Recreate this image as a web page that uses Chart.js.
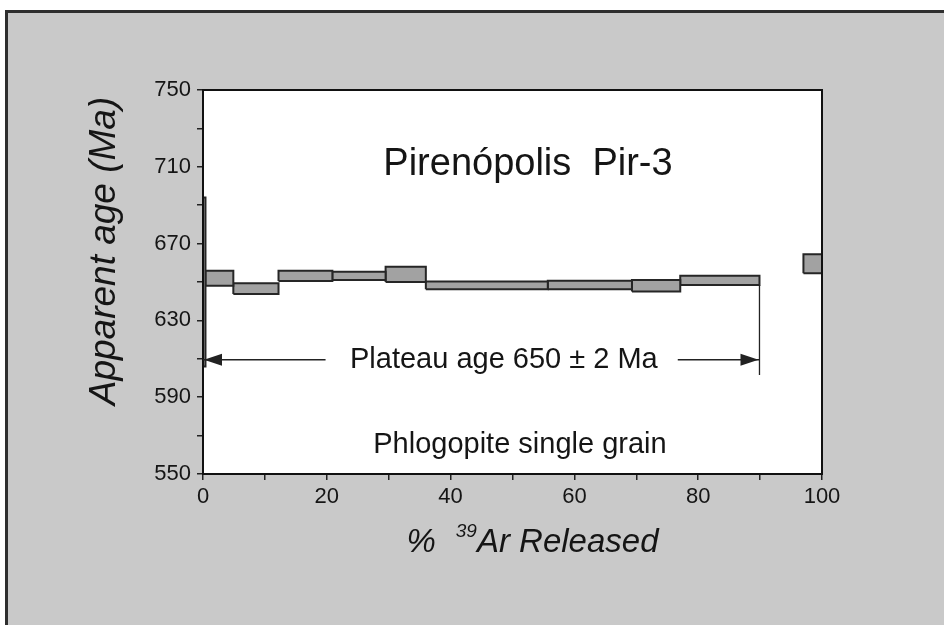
<!DOCTYPE html>
<html>
<head>
<meta charset="utf-8">
<title>Pirenópolis Pir-3 age spectrum</title>
<script src="https://cdn.jsdelivr.net/npm/chart.js@4.4.1/dist/chart.umd.min.js"></script>
<style>
  html, body { margin: 0; padding: 0; background: #fff; }
  #wrap { width: 944px; height: 625px; position: relative; }
</style>
</head>
<body>
<div id="wrap"><canvas id="spectrum"></canvas></div>
<script>

// step heating results: cumulative % 39Ar released at start/end of each step,
// apparent age and its error (Ma)
const stepStart = [0, 0.4, 4.9, 12.2, 20.9, 29.5, 36.0, 55.7, 69.3, 77.1, 97.0];
const stepEnd   = [0.4, 4.9, 12.2, 20.9, 29.5, 36.0, 55.7, 69.3, 77.1, 89.9, 100];
const stepAge   = [650, 652, 646.6, 653.2, 653.2, 654, 648.2, 648.4, 648, 650.8, 659.5];
const stepErr   = [44, 3.9, 2.8, 2.7, 2.2, 4, 2, 2.2, 3, 2.4, 5];

const yTicks = [550, 590, 630, 670, 710, 750];
const xTicks = [0, 20, 40, 60, 80, 100];

// plateau (steps 1-10)
const plateauFrom = 0;
const plateauTo = 89.9;
const plateauAge = 650;
const plateauErr = 2;

const FONT = '"Liberation Sans", Arial, Helvetica, sans-serif';
const INK = '#151515';

const boxes = stepAge.map((age, i) => {
    const lo = age - stepErr[i];
    const hi = age + stepErr[i];
    return {
        data: [
            { x: stepStart[i], y: lo },
            { x: stepEnd[i], y: lo },
            { x: stepEnd[i], y: hi },
            { x: stepStart[i], y: hi },
            { x: stepStart[i], y: lo }
        ],
        borderColor: '#262626',
        borderWidth: 2,
        borderJoinStyle: 'miter',
        backgroundColor: '#a2a2a2',
        fill: 'shape',
        pointRadius: 0,
        tension: 0,
        clip: false
    };
});


// grey page, frame and white plot box
const backdrop = {
    id: 'backdrop',
    beforeDraw(chart) {
        const { ctx, width, height, chartArea: a } = chart;
        ctx.save();
        ctx.fillStyle = '#fff';
        ctx.fillRect(0, 0, width, height);
        ctx.fillStyle = '#c9c9c9';
        ctx.fillRect(7, 12, width - 7, height - 12);
        ctx.strokeStyle = '#2e2e2e';
        ctx.lineWidth = 3;
        ctx.beginPath();
        ctx.moveTo(6.5, height);
        ctx.lineTo(6.5, 11.5);
        ctx.lineTo(width, 11.5);
        ctx.stroke();
        ctx.fillStyle = '#fff';
        ctx.fillRect(a.left, a.top, a.right - a.left, a.bottom - a.top);
        ctx.restore();
    }
};


function arrowHead(ctx, tipX, y, dir) {
    ctx.beginPath();
    ctx.moveTo(tipX, y);
    ctx.lineTo(tipX - dir * 18, y - 6);
    ctx.lineTo(tipX - dir * 18, y + 6);
    ctx.closePath();
    ctx.fill();
}


// plateau bracket, labels and the axis titles (x title has a superscript)
const notes = {
    id: 'notes',
    afterDraw(chart) {
        const { ctx, chartArea: a } = chart;
        const xs = chart.scales.x;
        const ys = chart.scales.y;
        ctx.save();

        // box round the plot
        ctx.strokeStyle = '#111';
        ctx.lineWidth = 2;
        ctx.strokeRect(a.left, a.top, a.right - a.left, a.bottom - a.top);

        // plateau arrow
        const arrowY = ys.getPixelForValue(609.5);
        const xL = xs.getPixelForValue(plateauFrom);
        const xR = xs.getPixelForValue(plateauTo);
        const last = stepStart.indexOf(77.1);
        ctx.strokeStyle = '#222';
        ctx.fillStyle = '#222';
        ctx.lineWidth = 1.3;
        ctx.beginPath();
        ctx.moveTo(xR, ys.getPixelForValue(stepAge[last] - stepErr[last]));
        ctx.lineTo(xR, ys.getPixelForValue(601.5));
        ctx.moveTo(xL, arrowY);
        ctx.lineTo(xs.getPixelForValue(19.8), arrowY);
        ctx.moveTo(xs.getPixelForValue(76.7), arrowY);
        ctx.lineTo(xR, arrowY);
        ctx.stroke();
        arrowHead(ctx, xL + 1, arrowY, -1);
        arrowHead(ctx, xR - 1, arrowY, 1);

        ctx.fillStyle = INK;
        ctx.textAlign = 'center';
        ctx.textBaseline = 'middle';
        ctx.font = `29px ${FONT}`;
        ctx.fillText(`Plateau age ${plateauAge} ± ${plateauErr} Ma`, xs.getPixelForValue(48.6), arrowY);

        ctx.textBaseline = 'alphabetic';
        ctx.font = `38px ${FONT}`;
        ctx.fillText('Pirenópolis  Pir-3', xs.getPixelForValue(52.5), ys.getPixelForValue(705.5));
        ctx.font = `29px ${FONT}`;
        ctx.fillText('Phlogopite single grain', xs.getPixelForValue(51.2), ys.getPixelForValue(561));

        // y title
        ctx.save();
        ctx.translate(a.left - 98, 251);
        ctx.rotate(-Math.PI / 2);
        ctx.textBaseline = 'middle';
        ctx.font = `italic 37px ${FONT}`;
        ctx.fillText('Apparent age (Ma)', 0, 0);
        ctx.restore();

        // "% 39Ar Released"
        ctx.textAlign = 'left';
        ctx.font = `italic 33px ${FONT}`;
        const wPct = ctx.measureText('%').width;
        const wAr = ctx.measureText('Ar Released').width;
        ctx.font = `italic 19px ${FONT}`;
        const wSup = ctx.measureText('39').width;
        const gap = 20;
        let tx = (a.left + a.right) / 2 + 20 - (wPct + gap + wSup + wAr) / 2;
        const base = a.bottom + 78;
        ctx.font = `italic 33px ${FONT}`;
        ctx.fillText('%', tx, base);
        tx += wPct + gap;
        ctx.font = `italic 19px ${FONT}`;
        ctx.fillText('39', tx, base - 15);
        tx += wSup;
        ctx.font = `italic 33px ${FONT}`;
        ctx.fillText('Ar Released', tx, base);

        ctx.restore();
    }
};


const ctx = document.getElementById('spectrum').getContext('2d');

new Chart(ctx, {
    type: 'line',
    data: { datasets: boxes },
    plugins: [backdrop, notes],
    options: {
        responsive: true,
        maintainAspectRatio: false,
        animation: false,
        layout: { padding: { top: 90, right: 122, left: 0, bottom: 0 } },
        plugins: {
            legend: { display: false },
            tooltip: { enabled: false }
        },
        scales: {
            x: {
                type: 'linear',
                min: 0,
                max: 100,
                afterFit: (scale) => { scale.height = 151; },
                ticks: {
                    stepSize: 10,
                    autoSkip: false,
                    maxRotation: 0,
                    padding: 4,
                    color: INK,
                    font: { family: FONT, size: 22 },
                    callback: (v) => xTicks.includes(v) ? v : ''
                },
                grid: { drawOnChartArea: false, tickLength: 6, color: '#222', lineWidth: 1.5 },
                border: { color: '#111', width: 2 }
            },
            y: {
                min: 550,
                max: 750,
                afterFit: (scale) => { scale.width = 203; },
                ticks: {
                    stepSize: 20,
                    autoSkip: false,
                    padding: 6,
                    color: INK,
                    font: { family: FONT, size: 22 },
                    callback: (v) => yTicks.includes(v) ? v : ''
                },
                grid: { drawOnChartArea: false, tickLength: 6, color: '#222', lineWidth: 1.5 },
                border: { color: '#111', width: 2 }
            }
        }
    }
});

</script>
</body>
</html>
